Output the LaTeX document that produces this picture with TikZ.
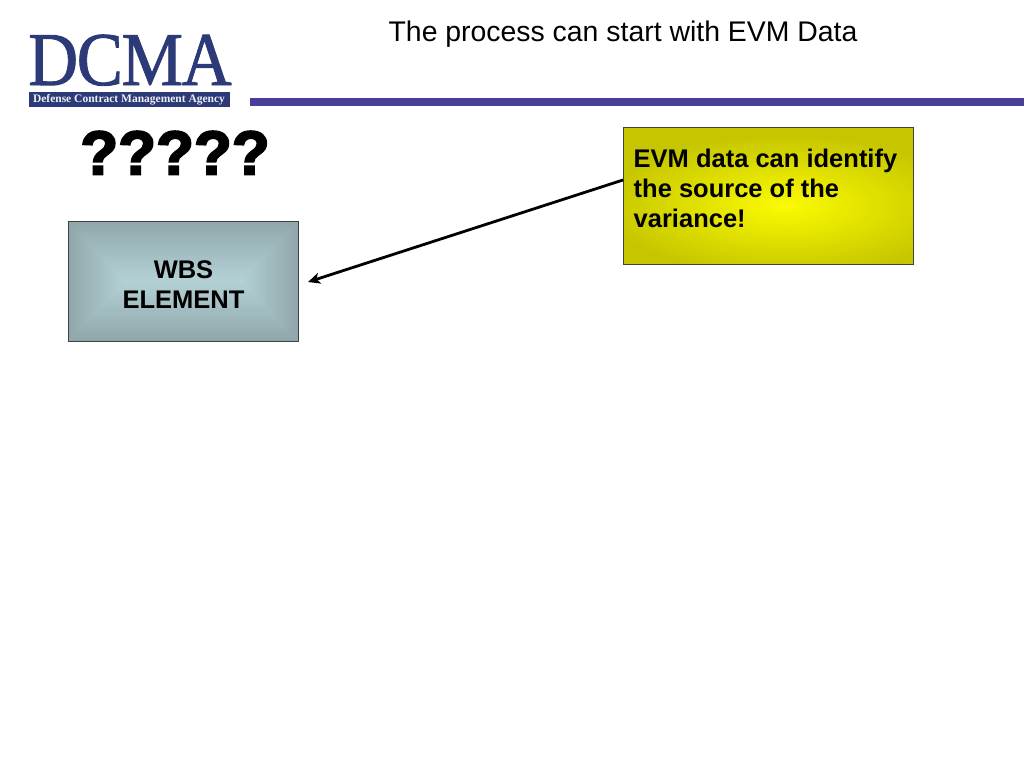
\documentclass[tikz,border=0pt]{standalone}
\usepackage{fontspec}
\setmainfont{Liberation Sans}
\newfontfamily\logoserif[FakeBold=1.2,LetterSpace=-2]{Liberation Serif}
\newfontfamily\logosubfont{Liberation Serif}
\newfontfamily\qfont[FakeBold=3.2]{Liberation Sans Bold}
\usetikzlibrary{arrows.meta}
\definecolor{logoblue}{HTML}{2C3A78}
\definecolor{barblue}{HTML}{473F98}
\definecolor{tealedge}{HTML}{8FA7AB}
\definecolor{tealmid}{HTML}{B4D2D6}
\definecolor{yedge}{HTML}{C6C600}
\definecolor{ymid}{HTML}{FBFB00}
\tikzset{
  px/.style={x=1pt,y=-1pt},
  boxline/.style={draw=black!75,line width=0.8pt},
  boxtext/.style={font=\bfseries\fontsize{25.5}{30}\selectfont,text=black},
  link/.style={draw=black,line width=2.8pt,-{Stealth[length=12pt,width=11pt,inset=3pt]}}
}
\begin{document}
\begin{tikzpicture}[px]
\useasboundingbox (0,0) rectangle (1024,768);
\fill[white] (0,0) rectangle (1024,768);
% title
\node[anchor=base,font=\fontsize{28.4}{32}\selectfont,text=black] (title) at (623,41.5) {The process can start with EVM Data};
% logo
\node[anchor=base west,inner sep=0pt,text depth=0pt,xscale=0.91,transform shape,font=\logoserif\fontsize{76}{76}\selectfont,text=logoblue] (logotext) at (28,85) {DCMA};
\node[anchor=north west,minimum width=201pt,minimum height=15pt,inner sep=0pt,fill=logoblue] (logobar) at (29,92) {};
\node[anchor=center,inner sep=0pt,font=\logosubfont\bfseries\fontsize{11.5}{14}\selectfont,text=white!92!logoblue] (logosub) at (129,99.5) {Defense Contract Management Agency};
% rule
\fill[barblue] (250,98) rectangle (1024,106);
% question marks
\node[anchor=base,inner sep=0pt,font=\qfont\fontsize{62}{66}\selectfont,text=black] (qq) at (175,174.5) {?????};
% WBS box
\foreach \i in {0,...,40}{
  \pgfmathsetmacro{\t}{\i/40}
  \pgfmathsetmacro{\m}{100*\t}
  \pgfmathsetmacro{\dx}{57.5*\t}
  \pgfmathsetmacro{\dy}{60*\t}
  \fill[tealmid!\m!tealedge] (68+\dx,221+\dy) rectangle (298-\dx,341-\dy);
}
\node[boxline,anchor=north west,minimum width=230pt,minimum height=120pt,inner sep=0pt] (wbs) at (68,221) {};
\node[anchor=center,inner sep=0pt,align=center,boxtext] (wbstext) at (183.5,284.5) {WBS\\[-0.5pt]ELEMENT};
% EVM box
\begin{scope}
  \clip (623,127) rectangle (913,264);
  \fill[yedge] (623,127) rectangle (913,264);
  \shade[inner color=ymid,outer color=yedge] (785,205) ellipse [x radius=180pt,y radius=70pt];
\end{scope}
\node[boxline,anchor=north west,minimum width=290pt,minimum height=137pt,inner sep=0pt] (evm) at (623,127) {};
\node[anchor=north west,inner sep=0pt,align=left,boxtext] (evmtext) at (633.5,149) {EVM data can identify\\[-0.2pt]the source of the\\[-0.2pt]variance!};
% connector
\coordinate (tail) at ([yshift=-53pt]evm.north west);
\coordinate (tip) at (308,282);
\draw[link] (tail) -- (tip);
\end{tikzpicture}
\end{document}
